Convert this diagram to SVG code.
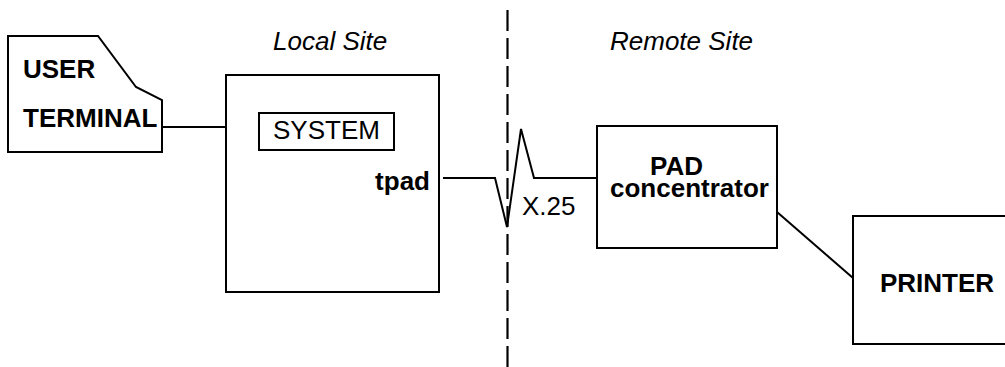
<svg xmlns="http://www.w3.org/2000/svg" width="1005" height="367" viewBox="0 0 1005 367">
  <style>
    .box { fill: #fff; stroke: #000; stroke-width: 2; }
    .wire { fill: none; stroke: #000; stroke-width: 2; stroke-linejoin: miter; }
    .divider { fill: none; stroke: #000; stroke-width: 2.2; stroke-dasharray: 21 7; }
    text { font-family: "Liberation Sans", Arial, sans-serif; font-size: 26px; fill: #000; }
    .b { font-weight: bold; }
    .i { font-style: italic; }
  </style>
  <rect width="1005" height="367" fill="#fff"/>

  <!-- site boundary and site captions -->
  <g id="boundary">
    <line class="divider" x1="507.5" y1="10" x2="507.5" y2="367"/>
    <text class="i" x="273" y="50">Local Site</text>
    <text class="i" x="610" y="50">Remote Site</text>
  </g>

  <!-- connectors -->
  <g id="connectors">
    <line class="wire" x1="162" y1="127" x2="226" y2="127"/>
    <polyline class="wire" points="443,178 495,178 507,227 521,129 534,178 597,178"/>
    <line class="wire" x1="777" y1="212" x2="853" y2="278"/>
    <text x="522" y="215">X.25</text>
  </g>

  <g id="user-terminal">
    <path class="box" d="M8,36 H98 L136,87 L162,100 V152 H8 Z"/>
    <text class="b" x="23" y="78">USER</text>
    <text class="b" x="23" y="127">TERMINAL</text>
  </g>

  <g id="local-system">
    <rect class="box" x="226" y="75" width="213" height="217"/>
    <rect class="box" x="259" y="113" width="135" height="37"/>
    <text x="273" y="139">SYSTEM</text>
    <text class="b" x="430" y="190" text-anchor="end">tpad</text>
  </g>

  <g id="pad-concentrator">
    <rect class="box" x="597" y="126" width="180" height="122"/>
    <text class="b" x="650" y="175">PAD</text>
    <text class="b" x="610" y="197">concentrator</text>
  </g>

  <g id="printer">
    <rect class="box" x="853" y="216" width="160" height="128"/>
    <text class="b" x="880" y="292">PRINTER</text>
  </g>
</svg>
